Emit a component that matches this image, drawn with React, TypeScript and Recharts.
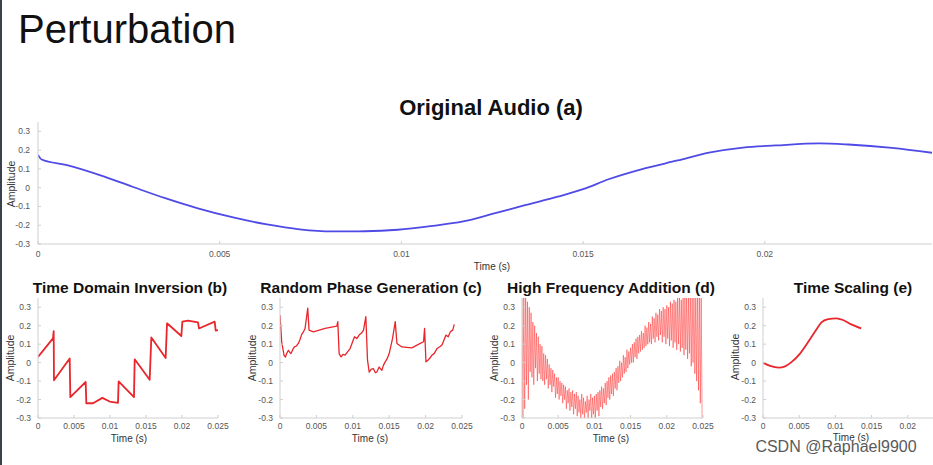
import React from "react";
import { LineChart, Line, XAxis, YAxis } from "recharts";

const FONT = '"Liberation Sans", Arial, Helvetica, sans-serif';

// tick labels
const yTicks = [-0.3, -0.2, -0.1, 0, 0.1, 0.2, 0.3];
const topXTicks = [0, 0.005, 0.01, 0.015, 0.02];
const smallXTicks = [0, 0.005, 0.01, 0.015, 0.02, 0.025];

// (a) original audio
const origTime = [0, 0.0001, 0.0008, 0.0017, 0.0026, 0.0035, 0.0044, 0.0054, 0.0063, 0.0072, 0.0081, 0.009, 0.0099, 0.0108, 0.0117, 0.0125, 0.0134, 0.0143, 0.015, 0.0157, 0.0166, 0.0176, 0.0185, 0.0194, 0.0203, 0.0215, 0.0223, 0.0235, 0.0246];
const origAmp = [0.175, 0.15, 0.12, 0.067, 0.005, -0.056, -0.11, -0.16, -0.196, -0.222, -0.233, -0.232, -0.224, -0.205, -0.18, -0.14, -0.093, -0.048, -0.008, 0.045, 0.098, 0.145, 0.188, 0.214, 0.225, 0.236, 0.23, 0.212, 0.186];

// (b) time domain inversion
const invTime = [0, 0.00208, 0.00218, 0.00222, 0.0044, 0.00449, 0.00662, 0.00671, 0.00764, 0.00894, 0.00995, 0.01111, 0.0112, 0.01333, 0.01343, 0.01551, 0.01574, 0.01773, 0.01792, 0.01991, 0.02005, 0.02083, 0.02222, 0.02236, 0.02454, 0.02468, 0.025];
const invAmp = [0.031, 0.131, 0.171, -0.096, 0.022, -0.187, -0.105, -0.22, -0.22, -0.191, -0.211, -0.218, -0.102, -0.187, 0.018, -0.093, 0.136, 0.025, 0.213, 0.144, 0.222, 0.227, 0.218, 0.185, 0.222, 0.173, 0.176];

// (c) random phase generation
const phaseTime = [0, 0.00023, 0.00055, 0.00075, 0.00092, 0.00115, 0.00135, 0.00151, 0.00175, 0.00197, 0.00225, 0.00252, 0.00275, 0.00298, 0.0032, 0.00344, 0.00381, 0.00399, 0.00459, 0.00619, 0.0078, 0.00794, 0.00812, 0.00839, 0.00865, 0.00894, 0.0093, 0.00963, 0.00995, 0.01023, 0.01055, 0.01087, 0.0112, 0.01147, 0.01179, 0.01202, 0.01225, 0.01255, 0.01284, 0.0131, 0.0133, 0.01362, 0.01399, 0.0142, 0.01445, 0.0147, 0.015, 0.01546, 0.01583, 0.01606, 0.01674, 0.01812, 0.01927, 0.01972, 0.01986, 0.02005, 0.02032, 0.0206, 0.02087, 0.0212, 0.02156, 0.0219, 0.02225, 0.0225, 0.0228, 0.0231, 0.0234, 0.02372, 0.02394];
const phaseAmp = [0.258, 0.113, 0.04, 0.03, 0.049, 0.067, 0.055, 0.049, 0.07, 0.085, 0.09, 0.104, 0.125, 0.153, 0.165, 0.185, 0.295, 0.176, 0.167, 0.185, 0.198, 0.222, 0.049, 0.031, 0.045, 0.04, 0.06, 0.076, 0.11, 0.14, 0.13, 0.149, 0.16, 0.176, 0.249, 0.013, -0.051, -0.035, -0.033, -0.055, -0.051, -0.024, -0.042, -0.015, 0.004, 0.02, 0.049, 0.131, 0.222, 0.104, 0.085, 0.08, 0.104, 0.113, 0.185, 0.004, 0.013, 0.025, 0.04, 0.05, 0.076, 0.085, 0.095, 0.12, 0.149, 0.14, 0.167, 0.176, 0.207];

// (d) high frequency addition, one value every 0.125 ms
const hfStep = 0.000125;
const hfAmp = [
  0.38, -0.3, 0.36, -0.25, 0.4, -0.12, 0.33, -0.2, 0.3, -0.05,
  0.27, -0.08, 0.22, -0.12, 0.2, -0.03, 0.16, -0.1, 0.14, -0.06,
  0.1, -0.09, 0.09, -0.1, 0.05, -0.12, 0.04, -0.09, 0.02, -0.14,
  -0.01, -0.12, -0.03, -0.16, -0.04, -0.13, -0.06, -0.19, -0.08, -0.17,
  -0.08, -0.2, -0.1, -0.18, -0.11, -0.22, -0.12, -0.2, -0.13, -0.25,
  -0.15, -0.22, -0.14, -0.26, -0.16, -0.24, -0.15, -0.28, -0.17, -0.25,
  -0.16, -0.29, -0.18, -0.27, -0.2, -0.3, -0.17, -0.28, -0.19, -0.31,
  -0.21, -0.27, -0.18, -0.3, -0.2, -0.26, -0.17, -0.31, -0.19, -0.28,
  -0.18, -0.3, -0.17, -0.26, -0.16, -0.29, -0.15, -0.24, -0.13, -0.25,
  -0.14, -0.22, -0.11, -0.23, -0.1, -0.19, -0.08, -0.2, -0.07, -0.17,
  -0.06, -0.18, -0.05, -0.14, -0.03, -0.15, -0.02, -0.11, 0.01, -0.1,
  0.0, -0.08, 0.04, -0.06, 0.03, -0.05, 0.07, -0.03, 0.06, -0.01,
  0.08, 0.0, 0.1, 0.0, 0.11, 0.03, 0.13, 0.02, 0.14, 0.05,
  0.15, 0.06, 0.17, 0.07, 0.16, 0.08, 0.2, 0.09, 0.19, 0.1,
  0.22, 0.11, 0.21, 0.1, 0.25, 0.13, 0.24, 0.11, 0.27, 0.14,
  0.26, 0.12, 0.29, 0.15, 0.28, 0.11, 0.3, 0.14, 0.29, 0.1,
  0.31, 0.13, 0.3, 0.09, 0.33, 0.12, 0.32, 0.08, 0.34, 0.11,
  0.33, 0.07, 0.35, 0.1, 0.36, 0.06, 0.34, 0.08, 0.37, 0.04,
  0.36, 0.07, 0.38, 0.02, 0.36, 0.05, 0.4, -0.02, 0.37, 0.0,
  0.4, -0.06, 0.38, -0.1, 0.4, -0.15, 0.38, -0.22, 0.35, -0.3,
  -0.32,
];

// (e) time scaling
const scaleTime = [0, 0.001, 0.00215, 0.00306, 0.00397, 0.00511, 0.00626, 0.00717, 0.00808, 0.009, 0.01014, 0.01105, 0.01219, 0.01356];
const scaleAmp = [0, -0.018, -0.027, -0.02, 0.004, 0.049, 0.113, 0.167, 0.218, 0.235, 0.24, 0.231, 0.207, 0.185];

const zip = (t: number[], v: number[]) => t.map((x, i) => ({ t: x, v: v[i] }));
const hfData = hfAmp.map((v, i) => ({ t: i * hfStep, v }));

const FRAME = "#cfcfcf";
const tickStyle = { fill: "#555", fontSize: 8.5, fontFamily: FONT };

function Panel({ data, left, top, width, height, margin, xDomain, xTicks, xAxisHeight, xTickMargin, yTickMargin, color, strokeWidth, strokeOpacity = 1, curve = "linear" }: any) {
  return (
    <div style={{ position: "absolute", left, top }}>
      <LineChart width={width} height={height} data={data} margin={margin}>
        <XAxis
          dataKey="t"
          type="number"
          domain={xDomain}
          ticks={xTicks}
          interval={0}
          allowDataOverflow
          height={xAxisHeight}
          tickSize={-3}
          tickMargin={xTickMargin}
          tick={tickStyle}
          axisLine={{ stroke: FRAME }}
          tickLine={{ stroke: FRAME }}
        />
        <XAxis
          xAxisId="top"
          orientation="top"
          dataKey="t"
          type="number"
          domain={xDomain}
          ticks={xTicks}
          interval={0}
          allowDataOverflow
          height={0}
          tickSize={-3}
          tickFormatter={() => ""}
          axisLine={{ stroke: FRAME }}
          tickLine={{ stroke: FRAME }}
        />
        <YAxis
          type="number"
          domain={[-0.3, 0.35]}
          ticks={yTicks}
          interval={0}
          allowDataOverflow
          width={38}
          tickSize={-3}
          tickMargin={yTickMargin}
          tick={tickStyle}
          axisLine={{ stroke: FRAME }}
          tickLine={{ stroke: FRAME }}
        />
        <YAxis
          yAxisId="right"
          orientation="right"
          type="number"
          domain={[-0.3, 0.35]}
          ticks={yTicks}
          interval={0}
          width={0}
          tickSize={-3}
          tickFormatter={() => ""}
          axisLine={{ stroke: FRAME }}
          tickLine={{ stroke: FRAME }}
        />
        <Line
          type={curve}
          dataKey="v"
          stroke={color}
          strokeWidth={strokeWidth}
          strokeOpacity={strokeOpacity}
          strokeLinejoin="round"
          dot={false}
          isAnimationActive={false}
        />
      </LineChart>
    </div>
  );
}

function Txt({ x, y, size, weight = 400, color = "#222", rotate = false, shadow, children }: any) {
  return (
    <div
      style={{
        position: "absolute",
        left: x,
        top: y,
        transform: `translate(-50%, -50%)${rotate ? " rotate(-90deg)" : ""}`,
        fontFamily: FONT,
        fontSize: size,
        fontWeight: weight,
        lineHeight: 1,
        color,
        whiteSpace: "nowrap",
        textShadow: shadow,
      }}
    >
      {children}
    </div>
  );
}

const bottomMargin = { top: 18, right: 15, bottom: 0, left: 0 };

export default function App() {
  return (
    <div style={{ position: "fixed", left: 0, top: 0, width: 933, height: 465, overflow: "hidden", background: "#fff" }}>
      <div style={{ position: "absolute", left: 0, top: 0, width: 2, height: 465, background: "#3a414c" }} />

      <Txt x={127} y={28.5} size={40} color="#111">Perturbation</Txt>

      {/* (a) */}
      <Txt x={491} y={107.5} size={22} weight={700} color="#111">Original Audio (a)</Txt>
      <Panel
        data={zip(origTime, origAmp)}
        left={0}
        top={100}
        width={933}
        height={175}
        margin={{ top: 22, right: 1, bottom: 0, left: 0 }}
        xDomain={[0, 0.0246]}
        xTicks={topXTicks}
        xAxisHeight={31}
        xTickMargin={10}
        yTickMargin={11}
        color="#4f4ae6"
        strokeWidth={1.8}
        curve="monotone"
      />
      <Txt x={492} y={267} size={10} color="#333">Time (s)</Txt>
      <Txt x={11} y={184} size={10.5} color="#333" rotate>Amplitude</Txt>

      {/* (b) */}
      <Txt x={130} y={287.5} size={15.5} weight={700} color="#111">Time Domain Inversion (b)</Txt>
      <Panel data={zip(invTime, invAmp)} left={0} top={280} width={233} height={160} margin={bottomMargin}
        xDomain={[0, 0.025]} xTicks={smallXTicks} xAxisHeight={22} xTickMargin={8} yTickMargin={10}
        color="#e8262b" strokeWidth={1.8} />
      <Txt x={129} y={439} size={10} color="#333">Time (s)</Txt>
      <Txt x={10} y={358} size={10.5} color="#333" rotate>Amplitude</Txt>

      {/* (c) */}
      <Txt x={371} y={287.5} size={15.5} weight={700} color="#111">Random Phase Generation (c)</Txt>
      <Panel data={zip(phaseTime, phaseAmp)} left={242} top={280} width={235} height={160} margin={bottomMargin}
        xDomain={[0, 0.025]} xTicks={smallXTicks} xAxisHeight={22} xTickMargin={8} yTickMargin={10}
        color="#e8262b" strokeWidth={1.3} />
      <Txt x={370} y={439} size={10} color="#333">Time (s)</Txt>
      <Txt x={252} y={358} size={10.5} color="#333" rotate>Amplitude</Txt>

      {/* (d) */}
      <Txt x={611} y={287.5} size={15.5} weight={700} color="#111">High Frequency Addition (d)</Txt>
      <Panel data={hfData} left={484} top={280} width={234} height={160} margin={bottomMargin}
        xDomain={[0, 0.025]} xTicks={smallXTicks} xAxisHeight={22} xTickMargin={8} yTickMargin={10}
        color="#ff2a2a" strokeWidth={0.9} strokeOpacity={0.55} />
      <Txt x={611} y={439} size={10} color="#333">Time (s)</Txt>
      <Txt x={494} y={358} size={10.5} color="#333" rotate>Amplitude</Txt>

      {/* (e) */}
      <Txt x={853} y={287.5} size={15.5} weight={700} color="#111">Time Scaling (e)</Txt>
      <Panel data={zip(scaleTime, scaleAmp)} left={725} top={280} width={234} height={160} margin={bottomMargin}
        xDomain={[0, 0.025]} xTicks={smallXTicks} xAxisHeight={22} xTickMargin={8} yTickMargin={10}
        color="#e8262b" strokeWidth={1.8} curve="monotone" />
      <Txt x={851} y={438} size={10} color="#333">Time (s)</Txt>
      <Txt x={735} y={357} size={10.5} color="#333" rotate>Amplitude</Txt>

      <Txt x={836} y={447} size={16} color="#5a5a5a" shadow="0 0 2px #fff, 0 0 2px #fff">CSDN @Raphael9900</Txt>
    </div>
  );
}
